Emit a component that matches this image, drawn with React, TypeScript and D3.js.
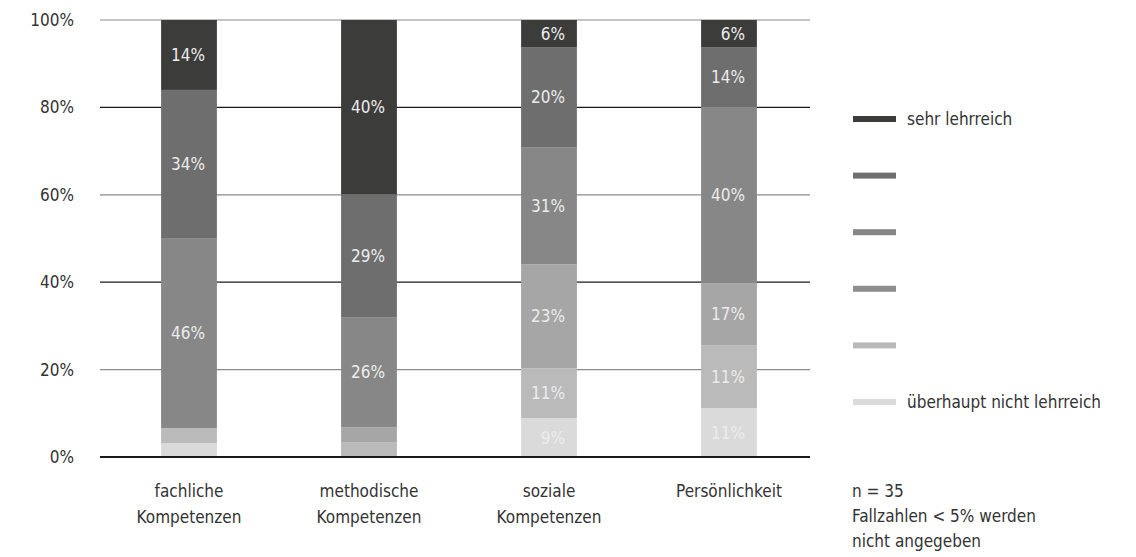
import React from "react";
import * as d3 from "d3";

// ---- data ----
const categories = ["fachliche Kompetenzen", "methodische Kompetenzen", "soziale Kompetenzen", "Persönlichkeit"];
const categoryLines = [["fachliche", "Kompetenzen"], ["methodische", "Kompetenzen"], ["soziale", "Kompetenzen"], ["Persönlichkeit"]];
const seriesNames = ["sehr lehrreich", "", "", "", "", "überhaupt nicht lehrreich"];

// bar segment heights as drawn (% of total), top (sehr lehrreich) to bottom
const s1 = [16.0, 39.9, 6.2, 6.2];
const s2 = [33.9, 28.1, 22.9, 13.7];
const s3 = [43.5, 25.2, 26.8, 40.3];
const s4 = [0, 3.4, 23.8, 14.2];
const s5 = [3.4, 3.4, 11.4, 14.4];
const s6 = [3.2, 0, 8.9, 11.2];

// printed labels (values < 5% not shown)
const l1 = ["14%", "40%", "6%", "6%"];
const l2 = ["34%", "29%", "20%", "14%"];
const l3 = ["46%", "26%", "31%", "40%"];
const l4 = ["", "", "23%", "17%"];
const l5 = ["", "", "11%", "11%"];
const l6 = ["", "", "9%", "11%"];

const yTicks = [0, 20, 40, 60, 80, 100];
const noteLines = ["n = 35", "Fallzahlen < 5% werden", "nicht angegeben"];

const seriesValues = [s1, s2, s3, s4, s5, s6];
const seriesLabels = [l1, l2, l3, l4, l5, l6];
const seriesColors = ["#3c3c3b", "#6e6e6e", "#878787", "#a6a6a6", "#bababa", "#dadada"];
const legendColors = ["#3c3c3b", "#6e6e6e", "#868686", "#8e8e8e", "#bababa", "#dadada"];

const FONT = "'Liberation Sans Narrow', 'DejaVu Sans Condensed', 'Roboto Condensed', Roboto, sans-serif";

export default function App() {
  const W = 1136, H = 557;
  const x = d3.scaleBand<string>().domain(categories).range([99, 819]).paddingInner(0.69).paddingOuter(0.345);
  const y = d3.scaleLinear().domain([0, 100]).range([457, 20]);

  const keys = seriesNames.map((_, i) => "s" + (i + 1));
  const table = categories.map((c, ci) => {
    const row: any = { cat: c };
    keys.forEach((k, si) => (row[k] = seriesValues[si][ci]));
    return row;
  });
  const stack = d3.stack<any>().keys([...keys].reverse());
  const layers = stack(table);

  const gridColor = (i: number) => (i % 2 === 0 ? "#1a1a1a" : "#8a8a8a");

  return (
    <svg width={W} height={H} style={{ position: "absolute", left: 0, top: 0, background: "#fff" }} fontFamily={FONT}>
      {/* grid lines */}
      {yTicks.map((t, i) => (
        <line key={"g" + t} x1={100} x2={810} y1={y(t)} y2={y(t)} stroke={gridColor(i)} strokeWidth={t === 0 ? 2 : 1.2} />
      ))}
      {/* y tick labels */}
      {yTicks.map((t) => (
        <text key={"t" + t} x={74} y={y(t)} textAnchor="end" dominantBaseline="central" fontSize={17} fill="#333">
          {t + "%"}
        </text>
      ))}
      {/* bars */}
      {layers.map((layer) => {
        const si = keys.indexOf(layer.key);
        return (
          <g key={layer.key}>
            {layer.map((d, ci) => {
              const h = y(d[0]) - y(d[1]);
              if (h <= 0) return null;
              return (
                <rect key={ci} x={x(categories[ci])} y={y(d[1])} width={x.bandwidth()} height={h} fill={seriesColors[si]} />
              );
            })}
          </g>
        );
      })}
      {/* axis line on top */}
      <line x1={100} x2={810} y1={y(0)} y2={y(0)} stroke="#1a1a1a" strokeWidth={2} />
      {/* segment labels */}
      {layers.map((layer) => {
        const si = keys.indexOf(layer.key);
        return (
          <g key={"l" + layer.key}>
            {layer.map((d, ci) => {
              const lab = seriesLabels[si][ci];
              if (!lab) return null;
              const cx = (x(categories[ci]) as number) + x.bandwidth() / 2;
              return (
                <text key={ci} x={cx + 16} y={(y(d[0]) + y(d[1])) / 2} textAnchor="end" dominantBaseline="central" fontSize={17} fill="#ececec">
                  {lab}
                </text>
              );
            })}
          </g>
        );
      })}
      {/* category labels */}
      {categories.map((c, ci) => {
        const cx = (x(c) as number) + x.bandwidth() / 2;
        return (
          <text key={"c" + ci} x={cx} y={497} textAnchor="middle" fontSize={17} fill="#333">
            {categoryLines[ci].map((ln, li) => (
              <tspan key={li} x={cx} dy={li === 0 ? 0 : 26}>{ln}</tspan>
            ))}
          </text>
        );
      })}
      {/* legend */}
      {seriesNames.map((n, i) => {
        const ly = 119 + i * 56.6;
        return (
          <g key={"lg" + i}>
            <rect x={853} y={ly - 3} width={43} height={6} fill={legendColors[i]} />
            {n && (
              <text x={907} y={ly} dominantBaseline="central" fontSize={17} fill="#333">{n}</text>
            )}
          </g>
        );
      })}
      {/* note */}
      <text x={852} y={497} fontSize={17} fill="#333">
        {noteLines.map((ln, i) => (
          <tspan key={i} x={852} dy={i === 0 ? 0 : 25}>{ln}</tspan>
        ))}
      </text>
    </svg>
  );
}
